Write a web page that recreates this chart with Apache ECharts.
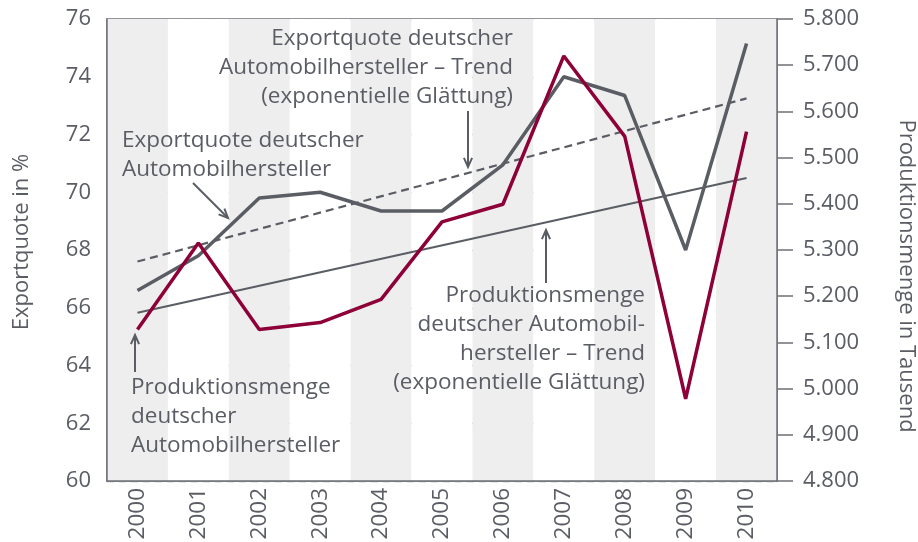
<!DOCTYPE html>
<html>
<head>
<meta charset="utf-8">
<script src="https://cdn.jsdelivr.net/npm/echarts@6/dist/echarts.min.js"></script>
<style>
  html, body { margin: 0; padding: 0; background: #fff; }
  #chart { width: 918px; height: 542px; }
</style>
</head>
<body>
<div id="chart"></div>
<script>
    // Jahre
    const years = ['2000', '2001', '2002', '2003', '2004', '2005', '2006', '2007', '2008', '2009', '2010']
    // Exportquote in % (linke Achse)
    const exportquote = [66.6, 67.8, 69.8, 70.0, 69.35, 69.35, 70.95, 74.0, 73.35, 68.0, 75.15]
    // Produktionsmenge in Tausend (rechte Achse)
    const produktion = [5128, 5315, 5128, 5143, 5193, 5361, 5399, 5720, 5546, 4978, 5556]
    const exportTrend = [67.6, null, null, null, null, null, null, null, null, null, 73.25]
    const produktionTrend = [5164, null, null, null, null, null, null, null, null, null, 5456]

    const GRAU = '#5b5d65'
    const ROT = '#8e0038'
    const FONT = '"Open Sans", "Noto Sans", sans-serif'

    // Pfeil für die Beschriftungen
    function arrow(x1, y1, x2, y2) {
        const a = Math.atan2(y2 - y1, x2 - x1), h = 10, w = 0.42
        return [
            {type: 'line', shape: {x1, y1, x2, y2}, style: {stroke: GRAU, lineWidth: 2}, z: 10},
            {
                type: 'polyline', z: 10,
                shape: {points: [
                    [x2 - h * Math.cos(a - w), y2 - h * Math.sin(a - w)],
                    [x2, y2],
                    [x2 - h * Math.cos(a + w), y2 - h * Math.sin(a + w)]
                ]},
                style: {stroke: GRAU, lineWidth: 2, fill: null}
            }
        ]
    }

    function label(x, y, text, align) {
        return {
            type: 'text', x, y, z: 10,
            style: {
                text, fill: GRAU, font: '22.5px ' + FONT, textAlign: align,
                textVerticalAlign: 'top', lineHeight: 29
            }
        }
    }

    const chart = echarts.init(document.getElementById('chart'))
    chart.setOption({
        animation: false,
        textStyle: {fontFamily: FONT},
        grid: {
            left: 107, right: 141, top: 19, bottom: 61, outerBoundsMode: 'none',
            show: true, borderColor: '#6e7077', borderWidth: 1.5, backgroundColor: 'transparent'
        },
        xAxis: {
            type: 'category',
            data: years,
            boundaryGap: true,
            axisLine: {lineStyle: {color: '#6e7077', width: 1.5}},
            axisTick: {show: false},
            axisLabel: {rotate: 90, fontSize: 22.5, color: GRAU, margin: 7},
            splitArea: {show: true, areaStyle: {color: ['#eeeeee', '#ffffff']}}
        },
        yAxis: [
            {
                type: 'value', min: 60, max: 76, interval: 2,
                name: 'Exportquote in %', nameLocation: 'middle', nameGap: 74,
                nameTextStyle: {fontSize: 22, color: GRAU, padding: [0, 0, 0, 16]},
                axisLine: {show: true, lineStyle: {color: '#6e7077', width: 1.5}},
                axisTick: {show: false},
                axisLabel: {fontSize: 22, color: GRAU, margin: 16},
                splitLine: {lineStyle: {color: '#9c9ea3', type: [7, 5], width: 1.3}}
            },
            {
                type: 'value', min: 4800, max: 5800, interval: 100,
                name: 'Produktionsmenge in Tausend', nameLocation: 'middle', nameGap: 118, nameRotate: -90,
                nameTextStyle: {fontSize: 22, color: GRAU, padding: [0, 0, 0, 52]},
                axisLine: {show: true, lineStyle: {color: '#6e7077', width: 1.5}},
                axisTick: {show: true, length: 16, lineStyle: {color: '#6e7077', width: 1.5}},
                axisLabel: {
                    fontSize: 22, color: GRAU, margin: 26,
                    formatter: v => String(v).replace(/(\d)(\d{3})$/, '$1.$2')
                },
                splitLine: {show: false}
            }
        ],
        series: [
            {
                name: 'Exportquote deutscher Automobilhersteller – Trend',
                type: 'line', yAxisIndex: 0, data: exportTrend, connectNulls: true,
                showSymbol: false, lineStyle: {color: GRAU, width: 2.2, type: [8, 5]}
            },
            {
                name: 'Produktionsmenge deutscher Automobilhersteller – Trend',
                type: 'line', yAxisIndex: 1, data: produktionTrend, connectNulls: true,
                showSymbol: false, lineStyle: {color: GRAU, width: 2}
            },
            {
                name: 'Exportquote deutscher Automobilhersteller',
                type: 'line', yAxisIndex: 0, data: exportquote,
                showSymbol: false, lineStyle: {color: GRAU, width: 3.5}
            },
            {
                name: 'Produktionsmenge deutscher Automobilhersteller',
                type: 'line', yAxisIndex: 1, data: produktion,
                showSymbol: false, lineStyle: {color: ROT, width: 3.5}
            }
        ],
        graphic: [
            label(513, 24, 'Exportquote deutscher\nAutomobilhersteller – Trend\n(exponentielle Glättung)', 'right'),
            ...arrow(468, 111, 468, 167),
            label(122, 126, 'Exportquote deutscher\nAutomobilhersteller', 'left'),
            ...arrow(193, 183, 228, 218),
            label(131, 373, 'Produktionsmenge\ndeutscher\nAutomobilhersteller', 'left'),
            ...arrow(135, 372, 135, 335),
            label(645, 281, 'Produktionsmenge\ndeutscher Automobil-\nhersteller – Trend\n(exponentielle Glättung)', 'right'),
            ...arrow(546, 283, 546, 230)
        ]
    })
</script>
</body>
</html>
